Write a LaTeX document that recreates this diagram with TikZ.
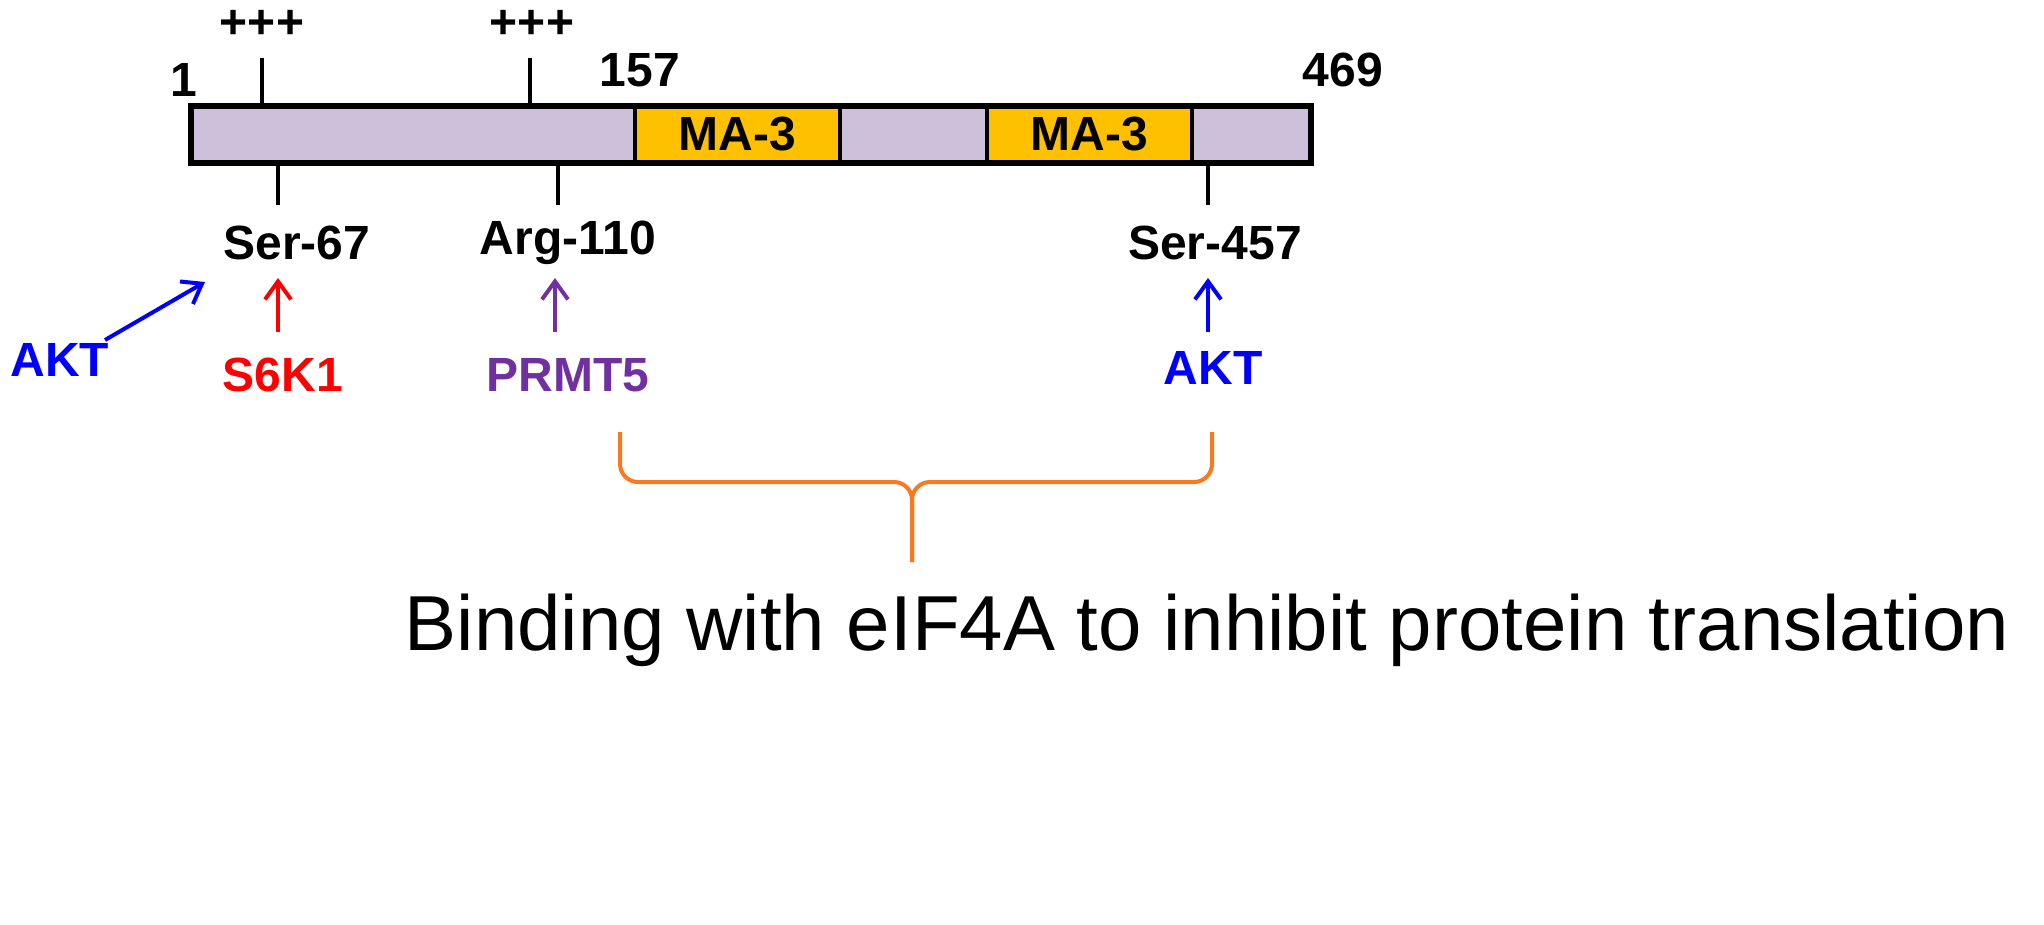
\documentclass[tikz,border=0pt]{standalone}
\usepackage{fontspec}
\setmainfont{Liberation Sans}
\usetikzlibrary{arrows.meta}
\definecolor{bar}{RGB}{204,192,218}
\definecolor{ma}{RGB}{255,192,0}
\definecolor{prm}{RGB}{112,48,160}
\definecolor{brc}{RGB}{250,120,30}
\begin{document}
\begin{tikzpicture}[x=1pt,y=-1pt,
  lab/.style={font=\bfseries\fontsize{48}{52}\selectfont},
  seg/.style={draw=black,line width=4pt},
  tick/.style={line width=4pt},
  arr/.style={line width=4pt,-{Straight Barb[length=18pt,width=26pt]}}]
\useasboundingbox (0,0) rectangle (2044,925);
\node[seg,fill=bar,minimum width=1118pt,minimum height=55pt,anchor=north west,inner sep=0] (bar) at (190,105) {};
\node[seg,fill=ma,minimum width=205pt,minimum height=55pt,anchor=north west,inner sep=0,lab] (m1) at (633,105) {MA-3};
\node[seg,fill=ma,minimum width=205pt,minimum height=55pt,anchor=north west,inner sep=0,lab] (m2) at (985,105) {MA-3};
\draw[seg] (bar.north west) rectangle (bar.south east);
\coordinate (t1) at (262,105); \coordinate (t1e) at (262,58);
\coordinate (t2) at (530,105); \coordinate (t2e) at (530,58);
\draw[tick] (t1) -- (t1e); \draw[tick] (t2) -- (t2e);
\node[lab] (p1) at (262,24) {+++};
\node[lab] (p2) at (532,24) {+++};
\node[lab] (n1) at (184,80) {1};
\node[lab] (n157) at (640,70) {157};
\node[lab] (n469) at (1343,70) {469};
\coordinate (b1) at (278,160); \coordinate (b1e) at (278,205);
\coordinate (b2) at (558,160); \coordinate (b2e) at (558,205);
\coordinate (b3) at (1208,160); \coordinate (b3e) at (1208,205);
\draw[tick] (b1) -- (b1e); \draw[tick] (b2) -- (b2e); \draw[tick] (b3) -- (b3e);
\node[lab] (s67) at (297,243) {Ser-67};
\node[lab] (a110) at (568,243) {Arg-110};
\node[lab] (s457) at (1215,243) {Ser-457};
\node[lab,text=blue] (akt1) at (60,360) {AKT};
\node[lab,text=red] (s6k) at (283,375) {S6K1};
\node[lab,text=prm] (prmt) at (568,375) {PRMT5};
\node[lab,text=blue] (akt2) at (1213,368) {AKT};
\coordinate (k1) at (105,340); \coordinate (k1e) at (205,282);
\draw[arr,blue] (k1) -- (k1e);
\draw[arr,red] (278,332) -- (278,278);
\draw[arr,prm] (555,332) -- (555,278);
\draw[arr,blue] (1208,332) -- (1208,278);
\draw[brc,line width=4pt,rounded corners=18pt] (620,432) -- (620,482) -- (912,482) -- (912,562);
\draw[brc,line width=4pt,rounded corners=18pt] (1212,432) -- (1212,482) -- (912,482) -- (912,562);
\node[font=\fontsize{78}{84}\selectfont] (bind) at (1207,630) {Binding with eIF4A to inhibit protein translation};
\end{tikzpicture}
\end{document}
